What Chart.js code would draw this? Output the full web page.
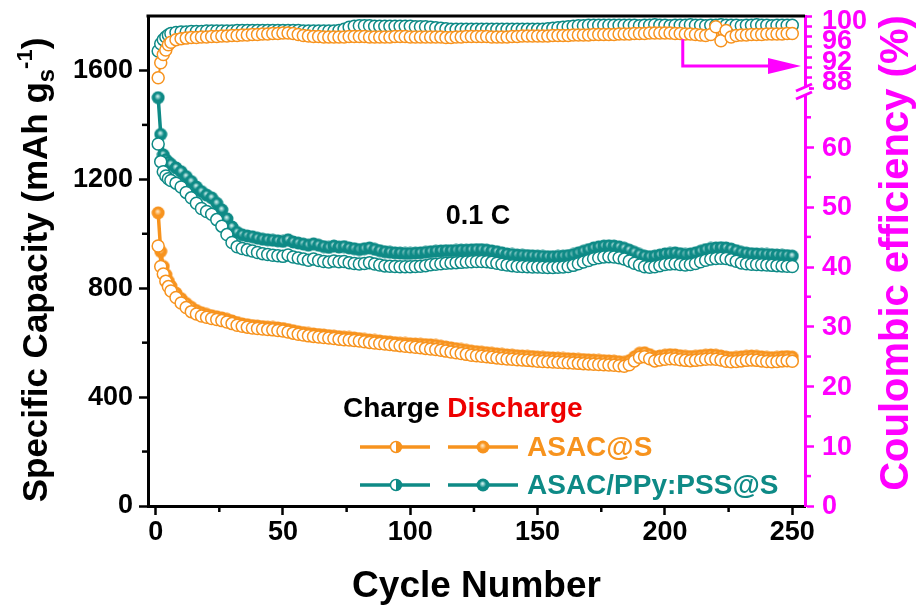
<!DOCTYPE html>
<html>
<head>
<meta charset="utf-8">
<script src="https://cdn.jsdelivr.net/npm/chart.js@4.4.1/dist/chart.umd.min.js"></script>
<style>
  html, body { margin: 0; padding: 0; background: #fff; }
</style>
</head>
<body>
<canvas id="chart" width="919" height="609"></canvas>
<script>
// cycle numbers (every cycle at start, then every 2nd cycle)
const cycles = [1, 2, 3, 4, 5, 6,
  8, 10, 12, 14, 16, 18, 20, 22, 24, 26,
  28, 30, 32, 34, 36, 38, 40, 42, 44, 46,
  48, 50, 52, 54, 56, 58, 60, 62, 64, 66,
  68, 70, 72, 74, 76, 78, 80, 82, 84, 86,
  88, 90, 92, 94, 96, 98, 100, 102, 104, 106,
  108, 110, 112, 114, 116, 118, 120, 122, 124, 126,
  128, 130, 132, 134, 136, 138, 140, 142, 144, 146,
  148, 150, 152, 154, 156, 158, 160, 162, 164, 166,
  168, 170, 172, 174, 176, 178, 180, 182, 184, 186,
  188, 190, 192, 194, 196, 198, 200, 202, 204, 206,
  208, 210, 212, 214, 216, 218, 220, 222, 224, 226,
  228, 230, 232, 234, 236, 238, 240, 242, 244, 246,
  248, 250];

// ASAC/PPy:PSS@S discharge capacity (mAh/g)
const disPPy = [1500, 1365, 1290, 1272, 1262, 1255,
  1242, 1228, 1210, 1192, 1172, 1155, 1142, 1132, 1112, 1088,
  1055, 1025, 1005, 996, 992, 989, 984, 980, 978, 976,
  974, 972, 978, 970, 966, 962, 958, 963, 958, 953,
  950, 955, 951, 953, 948, 945, 942, 945, 948, 943,
  938, 934, 932, 930, 929, 928, 928, 929, 930, 932,
  934, 936, 937, 938, 938, 939, 940, 940, 941, 942,
  942, 940, 937, 934, 930, 926, 924, 922, 921, 920,
  919, 918, 917, 916, 916, 917, 918, 920, 924, 930,
  936, 942, 948, 952, 955, 956, 955, 952, 947, 940,
  932, 924, 918, 916, 918, 922, 926, 928, 930, 927,
  924, 926, 930, 936, 942, 946, 948, 949, 948, 944,
  938, 932, 929, 927, 926, 925, 924, 923, 922, 921,
  920, 918];

// ASAC/PPy:PSS@S charge capacity
const chPPy = [1330, 1265, 1228, 1212, 1202, 1196,
  1186, 1172, 1152, 1132, 1112, 1093, 1082, 1072, 1052, 1028,
  997, 968, 952, 946, 941, 937, 931, 927, 924, 921,
  919, 917, 922, 915, 911, 907, 903, 907, 902, 898,
  896, 900, 897, 898, 894, 891, 889, 891, 894, 889,
  885, 882, 881, 880, 879, 879, 879, 880, 881, 883,
  886, 888, 890, 892, 893, 894, 895, 896, 897, 898,
  898, 897, 895, 892, 888, 885, 883, 881, 880, 879,
  878, 878, 877, 876, 876, 877, 878, 880, 884, 890,
  896, 902, 908, 912, 915, 916, 915, 912, 907, 900,
  892, 885, 879, 877, 879, 883, 887, 889, 890, 887,
  885, 887, 891, 897, 903, 907, 909, 910, 909, 905,
  899, 893, 890, 888, 887, 886, 885, 884, 883, 882,
  881, 880];

// ASAC@S discharge capacity
const disAsac = [1077, 935, 880, 850, 826, 808,
  782, 762, 744, 730, 718, 710, 704, 699, 695, 691,
  686, 680, 674, 669, 666, 663, 661, 659, 657, 656,
  654, 652, 648, 644, 640, 637, 634, 632, 630, 628,
  626, 624, 622, 620, 619, 617, 615, 612, 610, 608,
  606, 604, 602, 600, 598, 597, 596, 595, 594, 593,
  592, 590, 587, 584, 581, 578, 575, 572, 569, 567,
  565, 563, 561, 559, 557, 555, 554, 552, 551, 550,
  549, 547, 546, 545, 544, 543, 542, 541, 540, 539,
  538, 537, 536, 535, 534, 533, 532, 530, 528, 534,
  548, 561, 563, 556, 548, 551, 554, 556, 555, 552,
  550, 549, 550, 552, 554, 555, 554, 551, 547, 545,
  546, 548, 550, 551, 550, 548, 546, 545, 546, 548,
  549, 547];

// ASAC@S charge capacity
const chAsac = [955, 880, 852, 826, 806, 790,
  766, 746, 729, 714, 705, 698, 693, 689, 685, 681,
  676, 670, 664, 660, 657, 654, 652, 650, 648, 647,
  645, 643, 639, 635, 631, 628, 625, 623, 621, 619,
  617, 615, 613, 611, 610, 608, 606, 603, 601, 599,
  597, 595, 593, 591, 589, 587, 585, 583, 581, 579,
  577, 575, 572, 569, 566, 563, 560, 557, 554, 552,
  550, 548, 546, 544, 542, 540, 539, 537, 536, 535,
  534, 532, 531, 530, 529, 528, 527, 526, 525, 524,
  523, 522, 521, 520, 519, 518, 517, 515, 513, 519,
  533, 546, 548, 541, 533, 536, 539, 541, 540, 537,
  535, 534, 535, 537, 539, 540, 539, 536, 532, 530,
  531, 533, 535, 536, 535, 533, 531, 530, 531, 533,
  534, 532];

// Coulombic efficiency (%)
const ceAsac = [88.4, 91.3, 92.9, 93.8, 94.8, 95.3,
  95.8, 96.0, 96.1, 96.2, 96.2, 96.3, 96.3, 96.4, 96.4, 96.5,
  96.5, 96.6, 96.6, 96.7, 96.7, 96.8, 96.8, 96.9, 96.9, 97.0,
  97.0, 97.1, 97.1, 97.0, 96.8, 96.6, 96.5, 96.4, 96.4, 96.3,
  96.3, 96.3, 96.3, 96.3, 96.4, 96.4, 96.4, 96.4, 96.3, 96.3,
  96.3, 96.3, 96.3, 96.4, 96.4, 96.4, 96.3, 96.3, 96.3, 96.3,
  96.3, 96.3, 96.3, 96.2, 96.2, 96.3, 96.3, 96.4, 96.4, 96.4,
  96.4, 96.4, 96.3, 96.3, 96.3, 96.3, 96.4, 96.4, 96.5, 96.5,
  96.5, 96.5, 96.5, 96.5, 96.6, 96.6, 96.6, 96.6, 96.7, 96.7,
  96.7, 96.7, 96.8, 96.8, 96.8, 96.8, 96.8, 96.9, 96.9, 96.9,
  97.0, 97.0, 97.0, 97.1, 97.1, 97.1, 97.1, 97.1, 97.0, 97.0,
  96.9, 96.9, 96.8, 96.7, 96.6, 96.8, 98.3, 95.6, 97.6, 96.3,
  96.6, 96.7, 96.7, 96.8, 96.8, 96.8, 96.9, 96.9, 96.9, 96.9,
  97.0, 97.0];

const cePPy = [93.6, 95.0, 95.8, 96.3, 96.7, 97.0,
  97.2, 97.3, 97.3, 97.4, 97.4, 97.4, 97.5, 97.5, 97.5, 97.5,
  97.5, 97.5, 97.6, 97.6, 97.6, 97.6, 97.6, 97.6, 97.6, 97.6,
  97.6, 97.6, 97.6, 97.6, 97.6, 97.5, 97.5, 97.5, 97.5, 97.5,
  97.5, 97.5, 97.6, 97.8, 98.2, 98.4, 98.5, 98.5, 98.5, 98.4,
  98.4, 98.4, 98.4, 98.4, 98.4, 98.4, 98.4, 98.3, 98.3, 98.3,
  98.2, 98.1, 98.0, 97.9, 97.8, 97.8, 97.8, 97.8, 97.8, 97.8,
  97.8, 97.8, 97.8, 97.8, 97.8, 97.8, 97.8, 97.8, 97.8, 97.8,
  97.8, 97.8, 97.8, 97.9, 98.0, 98.1, 98.2, 98.3, 98.4, 98.5,
  98.5, 98.6, 98.6, 98.6, 98.6, 98.6, 98.6, 98.6, 98.6, 98.6,
  98.6, 98.5, 98.6, 98.6, 98.7, 98.6, 98.6, 98.5, 98.6, 98.6,
  98.6, 98.7, 98.6, 98.6, 98.5, 98.6, 98.6, 98.7, 98.6, 98.6,
  98.6, 98.5, 98.6, 98.6, 98.7, 98.6, 98.6, 98.5, 98.6, 98.6,
  98.6, 98.6];

// tick labels
const xLabels = [0, 50, 100, 150, 200, 250];
const xMinor = [25, 75, 125, 175, 225];
const capLabels = [0, 400, 800, 1200, 1600];
const capMinor = [200, 600, 1000, 1400];
const ceLowLabels = [0, 10, 20, 30, 40, 50, 60];
const ceLowMinor = [5, 15, 25, 35, 45, 55, 65];
const ceTopLabels = [88, 92, 96, 100];

const FONT = '"Liberation Sans", Arial, sans-serif';
const ORANGE = '#f7931e';
const TEAL = '#0e8a86';
const MAGENTA = '#ff00ff';

function pts(ys) {
    return cycles.map((c, i) => ({ x: c, y: ys[i] }));
}

function makeBall(color, light) {
    const c = document.createElement('canvas');
    c.width = 14; c.height = 14;
    const g = c.getContext('2d');
    const grad = g.createRadialGradient(6.5, 5.5, 0.5, 7, 7, 7);
    grad.addColorStop(0, light);
    grad.addColorStop(0.45, color);
    grad.addColorStop(1, color);
    g.fillStyle = grad;
    g.beginPath(); g.arc(7, 7, 6.5, 0, Math.PI * 2); g.fill();
    return c;
}
const ballOrange = makeBall(ORANGE, '#ffe2b8');
const ballTeal = makeBall(TEAL, '#c9ecea');

function openSet(data, color, axis) {
    return {
        data: pts(data), yAxisID: axis,
        showLine: true, borderColor: color, borderWidth: 2,
        pointStyle: 'circle', pointRadius: 6,
        pointBackgroundColor: '#fff', pointBorderColor: color, pointBorderWidth: 1.5
    };
}
function ballSet(data, color, ball) {
    return {
        data: pts(data), yAxisID: 'y',
        showLine: true, borderColor: color, borderWidth: 3.5,
        pointStyle: ball, pointRadius: 6.5
    };
}

const tickFont = { family: FONT, size: 27, weight: 'bold' };

// keep the plot area exactly where the axes put it
function noPad(scale) {
    scale.paddingTop = 0; scale.paddingBottom = 0;
    scale.paddingLeft = 0; scale.paddingRight = 0;
}

function rotatedText(ctx, parts, bx, cy) {
    ctx.save();
    ctx.translate(bx, cy);
    ctx.rotate(-Math.PI / 2);
    ctx.textBaseline = 'alphabetic';
    ctx.textAlign = 'left';
    let total = 0;
    parts.forEach(p => {
        ctx.font = 'bold ' + p.size + 'px ' + FONT;
        p.w = ctx.measureText(p.text).width;
        total += p.w;
    });
    let x = -total / 2;
    parts.forEach(p => {
        ctx.font = 'bold ' + p.size + 'px ' + FONT;
        ctx.fillStyle = p.color;
        ctx.fillText(p.text, x, p.dy || 0);
        x += p.w;
    });
    ctx.restore();
}

function legendRow(ctx, y, color, ball, label) {
    ctx.strokeStyle = color;
    ctx.lineWidth = 3.5;
    ctx.beginPath(); ctx.moveTo(360, y); ctx.lineTo(430, y); ctx.stroke();
    ctx.beginPath(); ctx.moveTo(448, y); ctx.lineTo(518, y); ctx.stroke();
    // half filled marker (charge)
    ctx.fillStyle = '#fff';
    ctx.beginPath(); ctx.arc(396, y, 5.5, 0, Math.PI * 2); ctx.fill();
    ctx.fillStyle = color;
    ctx.beginPath(); ctx.arc(396, y, 5.5, -Math.PI / 2, Math.PI / 2); ctx.fill();
    ctx.lineWidth = 1.5;
    ctx.beginPath(); ctx.arc(396, y, 5.5, 0, Math.PI * 2); ctx.stroke();
    // ball marker (discharge)
    ctx.drawImage(ball, 483 - 7, y - 7);
    ctx.fillStyle = color;
    ctx.font = 'bold 28px ' + FONT;
    ctx.textBaseline = 'middle';
    ctx.textAlign = 'left';
    ctx.fillText(label, 527, y + 1);
}

const decor = {
    id: 'decor',
    afterDraw(chart) {
        const { ctx, chartArea: a, scales: s } = chart;
        ctx.save();
        // top frame line
        ctx.strokeStyle = '#000';
        ctx.lineWidth = 3;
        ctx.beginPath(); ctx.moveTo(a.left - 1.5, a.top); ctx.lineTo(a.right, a.top); ctx.stroke();

        // minor ticks
        ctx.lineWidth = 2.5;
        xMinor.forEach(v => {
            const p = s.x.getPixelForValue(v);
            ctx.beginPath(); ctx.moveTo(p, a.bottom); ctx.lineTo(p, a.bottom + 6); ctx.stroke();
        });
        capMinor.forEach(v => {
            const p = s.y.getPixelForValue(v);
            ctx.beginPath(); ctx.moveTo(a.left, p); ctx.lineTo(a.left - 6, p); ctx.stroke();
        });
        ctx.strokeStyle = MAGENTA;
        ceLowMinor.forEach(v => {
            const p = s.yLow.getPixelForValue(v);
            ctx.beginPath(); ctx.moveTo(a.right, p); ctx.lineTo(a.right + 6, p); ctx.stroke();
        });

        // right axis tick labels
        ctx.fillStyle = MAGENTA;
        ctx.font = 'bold 27px ' + FONT;
        ctx.textAlign = 'left';
        ctx.textBaseline = 'middle';
        ceLowLabels.forEach(v => ctx.fillText(String(v), a.right + 17, s.yLow.getPixelForValue(v) + 1));
        ceTopLabels.forEach(v => ctx.fillText(String(v), a.right + 17, s.yTop.getPixelForValue(v) + 3));

        // axis break on the right axis
        const yb = s.yTop.bottom;
        ctx.fillStyle = '#fff';
        ctx.fillRect(a.right - 4, yb - 2, 8, 9);
        ctx.strokeStyle = MAGENTA;
        ctx.lineWidth = 3;
        ctx.beginPath(); ctx.moveTo(a.right - 9, yb + 3); ctx.lineTo(a.right + 7, yb - 4); ctx.stroke();
        ctx.beginPath(); ctx.moveTo(a.right - 9, yb + 11); ctx.lineTo(a.right + 7, yb + 4); ctx.stroke();

        // arrow pointing to the CE axis
        const ax = s.x.getPixelForValue(207);
        const ay0 = s.yTop.getPixelForValue(95.9);
        const ay1 = s.yTop.getPixelForValue(90.7);
        ctx.strokeStyle = MAGENTA;
        ctx.lineWidth = 3;
        ctx.beginPath(); ctx.moveTo(ax, ay0); ctx.lineTo(ax, ay1); ctx.lineTo(a.right - 30, ay1); ctx.stroke();
        ctx.fillStyle = MAGENTA;
        ctx.beginPath();
        ctx.moveTo(a.right - 4, ay1); ctx.lineTo(a.right - 37, ay1 - 8); ctx.lineTo(a.right - 37, ay1 + 8);
        ctx.closePath(); ctx.fill();

        // axis titles
        rotatedText(ctx, [
            { text: 'Specific Capacity (mAh g', size: 35, color: '#000' },
            { text: 's', size: 24, dy: 7, color: '#000' },
            { text: '-1', size: 22, dy: -15, color: '#000' },
            { text: ')', size: 35, color: '#000' }
        ], 47, 270);
        rotatedText(ctx, [
            { text: 'Coulombic efficiency (%)', size: 40, color: MAGENTA }
        ], 908, 253);

        // rate label
        ctx.fillStyle = '#000';
        ctx.font = 'bold 27px ' + FONT;
        ctx.textAlign = 'center';
        ctx.textBaseline = 'middle';
        ctx.fillText('0.1 C', 478, 217);

        // legend
        ctx.textAlign = 'left';
        ctx.font = 'bold 28px ' + FONT;
        ctx.fillStyle = '#000';
        ctx.fillText('Charge', 343, 409);
        const w = ctx.measureText('Charge ').width;
        ctx.fillStyle = '#ee0000';
        ctx.fillText('Discharge', 343 + w, 409);
        legendRow(ctx, 447, ORANGE, ballOrange, 'ASAC@S');
        legendRow(ctx, 485, TEAL, ballTeal, 'ASAC/PPy:PSS@S');
        ctx.restore();
    }
};

new Chart(document.getElementById('chart'), {
    type: 'scatter',
    data: {
        datasets: [
            openSet(ceAsac, ORANGE, 'yTop'),
            openSet(cePPy, TEAL, 'yTop'),
            openSet(chAsac, ORANGE, 'y'),
            openSet(chPPy, TEAL, 'y'),
            ballSet(disAsac, ORANGE, ballOrange),
            ballSet(disPPy, TEAL, ballTeal)
        ]
    },
    options: {
        responsive: false,
        animation: false,
        layout: { padding: { top: 16, left: 0, right: 0, bottom: 0 } },
        plugins: { legend: { display: false }, tooltip: { enabled: false } },
        scales: {
            x: {
                type: 'linear', min: -3, max: 255,
                ticks: {
                    stepSize: 50, includeBounds: false, color: '#000', font: tickFont, padding: 1,
                    maxRotation: 0, callback: v => xLabels.includes(v) ? v : ''
                },
                grid: { drawOnChartArea: false, tickLength: 9, tickWidth: 2.5, tickColor: '#000' },
                border: { color: '#000', width: 3 },
                title: {
                    display: true, text: 'Cycle Number', color: '#000',
                    font: { family: FONT, size: 37, weight: 'bold' }, padding: { top: 0, bottom: 0 }
                },
                afterFit(scale) { scale.height = 103; noPad(scale); }
            },
            y: {
                position: 'left', min: 0, max: 1800,
                ticks: {
                    stepSize: 400, includeBounds: false, color: '#000', font: tickFont, padding: 6,
                    callback: v => capLabels.includes(v) ? v : ''
                },
                grid: { drawOnChartArea: false, tickLength: 9, tickWidth: 2.5, tickColor: '#000' },
                border: { color: '#000', width: 3 },
                afterFit(scale) { scale.width = 148; noPad(scale); }
            },
            yTop: {
                position: 'right', stack: 'ce', stackWeight: 72, min: 86.4, max: 100.4,
                ticks: { stepSize: 2, includeBounds: false, display: false },
                grid: { drawOnChartArea: false, tickLength: 7, tickWidth: 2.5, tickColor: MAGENTA },
                border: { color: MAGENTA, width: 3 },
                afterFit(scale) { scale.width = 114; noPad(scale); }
            },
            yLow: {
                position: 'right', stack: 'ce', stackWeight: 418, min: 0, max: 69.9,
                ticks: { stepSize: 10, includeBounds: false, display: false },
                grid: { drawOnChartArea: false, tickLength: 9, tickWidth: 2.5, tickColor: MAGENTA },
                border: { color: MAGENTA, width: 3 },
                afterFit(scale) { scale.width = 114; noPad(scale); }
            }
        }
    },
    plugins: [decor]
});
</script>
</body>
</html>
